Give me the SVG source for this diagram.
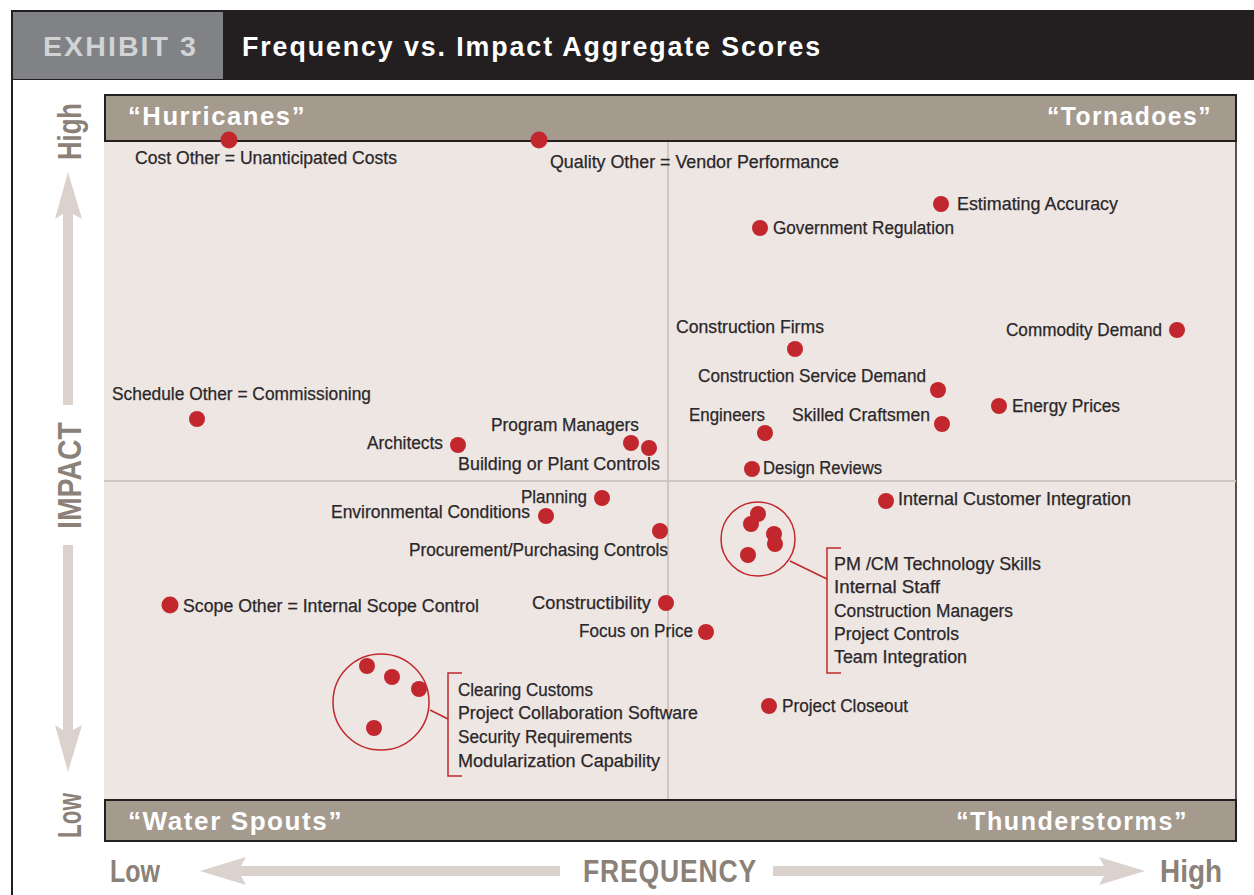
<svg xmlns="http://www.w3.org/2000/svg" width="1254" height="895" viewBox="0 0 1254 895">
<defs>
<style>
.lbl{font-family:"Liberation Sans",Arial,sans-serif;font-size:18px;fill:#2b2729;stroke:#2b2729;stroke-width:0.25px;}
.dot{fill:#c1272d;}
.band{fill:#a59a8e;stroke:#231f20;stroke-width:2;}
.bandtxt{font-family:"Liberation Sans",Arial,sans-serif;font-weight:bold;font-size:25px;fill:#ffffff;letter-spacing:1.5px;}
.axis{font-family:"Liberation Sans",Arial,sans-serif;font-weight:bold;fill:#8b8178;}
.arrow{fill:#dcd2cd;}
.ring{fill:none;stroke:#c1272d;stroke-width:1.5;}
.conn{fill:none;stroke:#c1272d;stroke-width:1.5;}
.mid{stroke:#cfc6bf;stroke-width:2;}
.head{font-family:"Liberation Sans",Arial,sans-serif;font-weight:bold;font-size:28px;letter-spacing:2px;}
</style>
</defs>
<rect x="0" y="0" width="1254" height="895" fill="#ffffff"/>
<!-- frame -->
<line x1="12" y1="10" x2="12" y2="895" stroke="#231f20" stroke-width="2"/>
<!-- header -->
<g id="header">
<rect x="11" y="10" width="1243" height="70" fill="#231f20"/>
<rect x="13" y="12" width="210" height="67" fill="#808285"/>
<text class="head" x="43" y="56" fill="#d1d3d4" textLength="155" lengthAdjust="spacingAndGlyphs">EXHIBIT 3</text>
<text class="head" x="242" y="56" fill="#ffffff" textLength="580" lengthAdjust="spacingAndGlyphs">Frequency vs. Impact Aggregate Scores</text>
</g>
<!-- plot area -->
<g id="plot">
<rect x="104" y="141" width="1132" height="659" fill="#ede6e3"/>
<line x1="1236" y1="141" x2="1236" y2="800" stroke="#231f20" stroke-width="1.5"/>
<line class="mid" x1="668" y1="141" x2="668" y2="800"/>
<line class="mid" x1="104" y1="481" x2="1236" y2="481"/>
<rect class="band" x="105" y="95" width="1131" height="46"/>
<rect class="band" x="105" y="800" width="1131" height="41"/>
<text class="bandtxt" x="128" y="125" textLength="178" lengthAdjust="spacingAndGlyphs">“Hurricanes”</text>
<text class="bandtxt" x="1047" y="125" textLength="165" lengthAdjust="spacingAndGlyphs">“Tornadoes”</text>
<text class="bandtxt" x="128" y="830" textLength="215" lengthAdjust="spacingAndGlyphs">“Water Spouts”</text>
<text class="bandtxt" x="956" y="830" textLength="232" lengthAdjust="spacingAndGlyphs">“Thunderstorms”</text>
</g>
<!-- axes -->
<g id="impact-axis">
<polygon class="arrow" points="68,172 82,219 73,214 73,405 63,405 63,214 55,219"/>
<polygon class="arrow" points="68,772 82,725 73,730 73,545 63,545 63,730 55,725"/>
<text class="axis" font-size="33" transform="translate(81,131.5) rotate(-90)" text-anchor="middle" textLength="57" lengthAdjust="spacingAndGlyphs">High</text>
<text class="axis" font-size="33" transform="translate(81,475.5) rotate(-90)" text-anchor="middle" textLength="107" lengthAdjust="spacingAndGlyphs">IMPACT</text>
<text class="axis" font-size="33" transform="translate(81,815.5) rotate(-90)" text-anchor="middle" textLength="45" lengthAdjust="spacingAndGlyphs">Low</text>
</g>
<g id="frequency-axis">
<polygon class="arrow" points="200,871 246,857 241,866 560,866 560,876 241,876 246,885"/>
<polygon class="arrow" points="1145,871 1099,857 1104,866 773,866 773,876 1104,876 1099,885"/>
<text class="axis" font-size="31" x="110" y="882" textLength="50" lengthAdjust="spacingAndGlyphs">Low</text>
<text class="axis" font-size="31" x="583" y="882" letter-spacing="1" textLength="174" lengthAdjust="spacingAndGlyphs">FREQUENCY</text>
<text class="axis" font-size="31" x="1160" y="882" textLength="62" lengthAdjust="spacingAndGlyphs">High</text>
</g>
<!-- connectors -->
<g id="connectors">
<circle class="ring" cx="758" cy="539" r="37"/>
<polyline class="conn" points="790,561 827,579"/>
<polyline class="conn" points="841,548 827,548 827,673 841,673"/>
<circle class="ring" cx="381" cy="702" r="48"/>
<polyline class="conn" points="430,710 448,719"/>
<polyline class="conn" points="462,673 448,673 448,776 462,776"/>
</g>
<!-- nodes -->
<g id="cost-other"><circle class="dot" cx="229" cy="140" r="8.5"/><text class="lbl" x="135" y="164" textLength="262" lengthAdjust="spacingAndGlyphs">Cost Other = Unanticipated Costs</text></g>
<g id="quality-other"><circle class="dot" cx="539" cy="140" r="8.5"/><text class="lbl" x="550" y="168" textLength="289" lengthAdjust="spacingAndGlyphs">Quality Other = Vendor Performance</text></g>
<g id="estimating-accuracy"><circle class="dot" cx="941" cy="204" r="8"/><text class="lbl" x="957" y="210" textLength="161" lengthAdjust="spacingAndGlyphs">Estimating Accuracy</text></g>
<g id="government-regulation"><circle class="dot" cx="760" cy="228" r="8"/><text class="lbl" x="773" y="234" textLength="181" lengthAdjust="spacingAndGlyphs">Government Regulation</text></g>
<g id="construction-firms"><circle class="dot" cx="795" cy="349" r="8"/><text class="lbl" x="676" y="333" textLength="148" lengthAdjust="spacingAndGlyphs">Construction Firms</text></g>
<g id="commodity-demand"><circle class="dot" cx="1177" cy="330" r="8"/><text class="lbl" x="1006" y="336" textLength="156" lengthAdjust="spacingAndGlyphs">Commodity Demand</text></g>
<g id="construction-service-demand"><circle class="dot" cx="938" cy="390" r="8"/><text class="lbl" x="698" y="382" textLength="228" lengthAdjust="spacingAndGlyphs">Construction Service Demand</text></g>
<g id="energy-prices"><circle class="dot" cx="999" cy="406" r="8"/><text class="lbl" x="1012" y="412" textLength="108" lengthAdjust="spacingAndGlyphs">Energy Prices</text></g>
<g id="engineers"><circle class="dot" cx="765" cy="433" r="8"/><text class="lbl" x="689" y="421" textLength="76" lengthAdjust="spacingAndGlyphs">Engineers</text></g>
<g id="skilled-craftsmen"><circle class="dot" cx="942" cy="424" r="8"/><text class="lbl" x="792" y="421" textLength="138" lengthAdjust="spacingAndGlyphs">Skilled Craftsmen</text></g>
<g id="schedule-other"><circle class="dot" cx="197" cy="419" r="8"/><text class="lbl" x="112" y="400" textLength="259" lengthAdjust="spacingAndGlyphs">Schedule Other = Commissioning</text></g>
<g id="architects"><circle class="dot" cx="458" cy="445" r="8"/><text class="lbl" x="367" y="449" textLength="76" lengthAdjust="spacingAndGlyphs">Architects</text></g>
<g id="program-managers"><circle class="dot" cx="631" cy="443" r="8"/><text class="lbl" x="491" y="431" textLength="148" lengthAdjust="spacingAndGlyphs">Program Managers</text></g>
<g id="building-plant-controls"><circle class="dot" cx="649" cy="448" r="8"/><text class="lbl" x="458" y="470" textLength="202" lengthAdjust="spacingAndGlyphs">Building or Plant Controls</text></g>
<g id="design-reviews"><circle class="dot" cx="752" cy="469" r="8"/><text class="lbl" x="763" y="474" textLength="119" lengthAdjust="spacingAndGlyphs">Design Reviews</text></g>
<g id="planning"><circle class="dot" cx="602" cy="498" r="8"/><text class="lbl" x="521" y="503" textLength="66" lengthAdjust="spacingAndGlyphs">Planning</text></g>
<g id="environmental-conditions"><circle class="dot" cx="546" cy="516" r="8"/><text class="lbl" x="331" y="518" textLength="199" lengthAdjust="spacingAndGlyphs">Environmental Conditions</text></g>
<g id="procurement"><circle class="dot" cx="660" cy="531" r="8"/><text class="lbl" x="409" y="556" textLength="259" lengthAdjust="spacingAndGlyphs">Procurement/Purchasing Controls</text></g>
<g id="internal-customer-integration"><circle class="dot" cx="886" cy="501" r="8"/><text class="lbl" x="898" y="505" textLength="233" lengthAdjust="spacingAndGlyphs">Internal Customer Integration</text></g>
<g id="scope-other"><circle class="dot" cx="170" cy="605" r="8.5"/><text class="lbl" x="183" y="612" textLength="296" lengthAdjust="spacingAndGlyphs">Scope Other = Internal Scope Control</text></g>
<g id="constructibility"><circle class="dot" cx="666" cy="603" r="8"/><text class="lbl" x="532" y="609" textLength="119" lengthAdjust="spacingAndGlyphs">Constructibility</text></g>
<g id="focus-on-price"><circle class="dot" cx="706" cy="632" r="8"/><text class="lbl" x="579" y="637" textLength="114" lengthAdjust="spacingAndGlyphs">Focus on Price</text></g>
<g id="project-closeout"><circle class="dot" cx="769" cy="706" r="8"/><text class="lbl" x="782" y="712" textLength="126" lengthAdjust="spacingAndGlyphs">Project Closeout</text></g>
<g id="cluster-upper">
<circle class="dot" cx="758" cy="514" r="8"/>
<circle class="dot" cx="751" cy="524" r="8"/>
<circle class="dot" cx="774" cy="534" r="8"/>
<circle class="dot" cx="775" cy="544" r="8"/>
<circle class="dot" cx="748" cy="555" r="8"/>
<text class="lbl" x="834" y="570" textLength="207" lengthAdjust="spacingAndGlyphs">PM /CM Technology Skills</text>
<text class="lbl" x="834" y="593" textLength="106" lengthAdjust="spacingAndGlyphs">Internal Staff</text>
<text class="lbl" x="834" y="617" textLength="179" lengthAdjust="spacingAndGlyphs">Construction Managers</text>
<text class="lbl" x="834" y="640" textLength="125" lengthAdjust="spacingAndGlyphs">Project Controls</text>
<text class="lbl" x="834" y="663" textLength="133" lengthAdjust="spacingAndGlyphs">Team Integration</text>
</g>
<g id="cluster-lower">
<circle class="dot" cx="367" cy="666" r="8"/>
<circle class="dot" cx="392" cy="677" r="8"/>
<circle class="dot" cx="419" cy="689" r="8"/>
<circle class="dot" cx="374" cy="728" r="8"/>
<text class="lbl" x="458" y="696" textLength="135" lengthAdjust="spacingAndGlyphs">Clearing Customs</text>
<text class="lbl" x="458" y="719" textLength="240" lengthAdjust="spacingAndGlyphs">Project Collaboration Software</text>
<text class="lbl" x="458" y="743" textLength="174" lengthAdjust="spacingAndGlyphs">Security Requirements</text>
<text class="lbl" x="458" y="767" textLength="202" lengthAdjust="spacingAndGlyphs">Modularization Capability</text>
</g>
</svg>
